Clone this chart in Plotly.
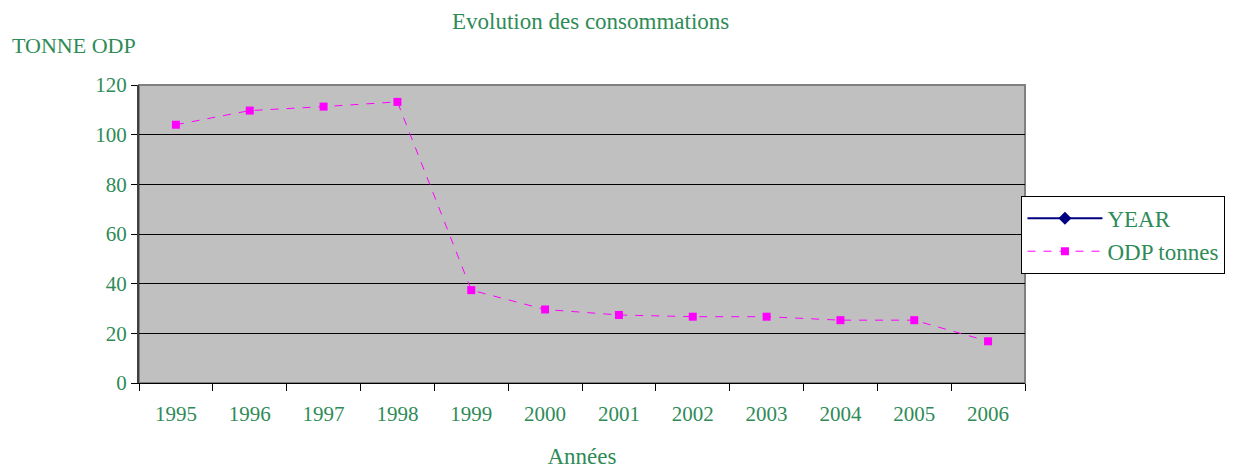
import plotly.graph_objects as go

years = ["1995", "1996", "1997", "1998", "1999", "2000", "2001", "2002", "2003", "2004", "2005", "2006"]
year_values = [1995, 1996, 1997, 1998, 1999, 2000, 2001, 2002, 2003, 2004, 2005, 2006]
odp_tonnes = [104.0, 109.7, 111.3, 113.2, 37.4, 29.6, 27.4, 26.7, 26.7, 25.3, 25.3, 16.8]
y_ticks = [0, 20, 40, 60, 80, 100, 120]

GREEN = "#2e8b57"
FONT = "Liberation Serif, Times New Roman, DejaVu Serif, serif"

fig = go.Figure()
fig.add_trace(go.Scatter(
    x=years, y=year_values, name="YEAR", mode="lines+markers",
    line=dict(color="#000080", width=2),
    marker=dict(symbol="diamond", size=10, color="#000080"),
))
fig.add_trace(go.Scatter(
    x=years, y=odp_tonnes, name="ODP tonnes", mode="lines+markers",
    line=dict(color="#ff00ff", width=1, dash="8px,8px"),
    marker=dict(symbol="square", size=8, color="#ff00ff"),
))

fig.update_layout(
    width=1234, height=473,
    margin=dict(l=131, r=217, t=77, b=98),
    paper_bgcolor="white",
    plot_bgcolor="#c0c0c0",
    font=dict(family=FONT, color=GREEN, size=21),
    showlegend=True,
    legend=dict(
        x=0.996, y=0.628, xanchor="left", yanchor="top",
        bgcolor="white", bordercolor="#000000", borderwidth=1,
        font=dict(family=FONT, size=23, color=GREEN),
        itemwidth=75,
        tracegroupgap=4,
    ),
    xaxis=dict(
        type="category", categoryorder="array", categoryarray=years,
        tickson="boundaries", ticks="outside", ticklen=7, tickcolor="black",
        showgrid=False, showline=True, linecolor="black", linewidth=1,
        tickfont=dict(family=FONT, size=21, color=GREEN),
        ticklabelstandoff=12,
        title=dict(text="Années", font=dict(family=FONT, size=23, color=GREEN), standoff=22),
        range=[-0.5, 11.5],
    ),
    yaxis=dict(
        range=[0, 120], tickvals=y_ticks,
        ticks="outside", ticklen=6, tickcolor="black",
        showgrid=True, gridcolor="black", gridwidth=1,
        showline=True, linecolor="#404040", linewidth=2,
        zeroline=False,
        tickfont=dict(family=FONT, size=21, color=GREEN),
    ),
    shapes=[dict(type="rect", xref="paper", yref="paper", x0=0, x1=1, y0=0, y1=1,
                 line=dict(color="#808080", width=2), layer="below")],
    annotations=[
        dict(text="Evolution des consommations", xref="paper", yref="paper",
             x=0.51, y=1.212, xanchor="center", yanchor="middle", showarrow=False,
             font=dict(family=FONT, size=23, color=GREEN)),
        dict(text="TONNE ODP", xref="paper", yref="paper",
             x=-0.1456, y=1.134, xanchor="left", yanchor="middle", showarrow=False,
             font=dict(family=FONT, size=22, color=GREEN)),
    ],
)

fig.write_html("out.html")
